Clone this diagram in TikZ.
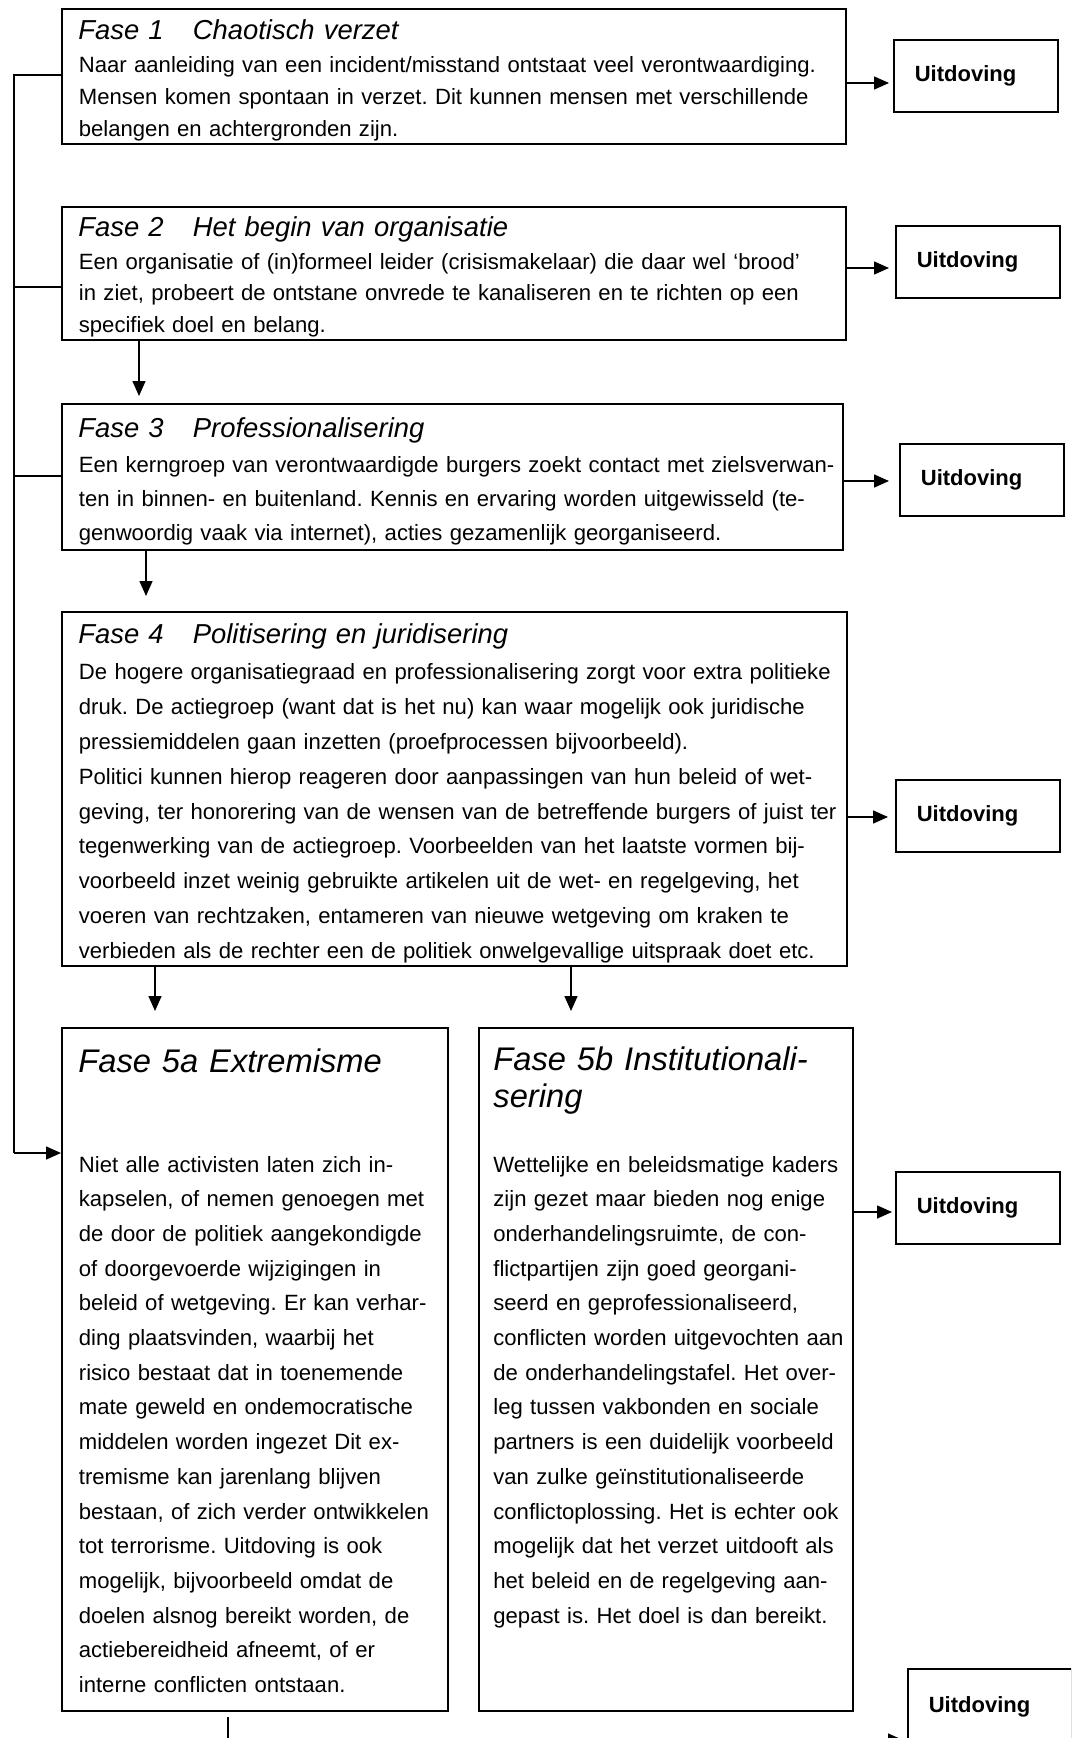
\documentclass[tikz,border=0pt]{standalone}
\usepackage{fontspec}
\setmainfont{Liberation Sans}
\usetikzlibrary{arrows.meta,fit}
\setlength{\parindent}{0pt}
\frenchspacing
\tikzset{
  phase/.style={draw, line width=1pt, inner sep=0pt, rectangle},
  ubox/.style={draw, line width=0.85pt, rectangle, anchor=north west,
    minimum width=82pt, minimum height=36pt, text width=61pt,
    inner xsep=10.5pt, inner ysep=0pt, align=left,
    font=\fontsize{11pt}{13pt}\selectfont\bfseries},
  conn/.style={line width=0.75pt},
  arr/.style={conn, -{Triangle[length=7.5pt,width=6.5pt]}},
  ttl/.style={anchor=north west, inner sep=0pt, align=left, text width=420pt,
    font=\fontsize{13.7pt}{16pt}\selectfont\itshape},
  bigttl/.style={anchor=north west, inner sep=0pt, align=left, text width=420pt,
    font=\fontsize{16.35pt}{18.5pt}\selectfont\itshape},
  body/.style={anchor=north west, inner sep=0pt, align=left, text width=420pt},
}
\newcommand{\bs}{\rule{0pt}{12pt}}
\newcommand{\ts}{\rule{0pt}{14pt}}
\newcommand{\fase}[1]{\makebox[57.25pt][l]{#1}}
\begin{document}
\begin{tikzpicture}[x=0.5pt, y=-0.5pt]
\useasboundingbox (0,0) rectangle (1071,1738);
\clip (0,0) rectangle (1071,1738);
\fill[white] (0,0) rectangle (1071,1738);

% phase boxes
\node[phase, fit={(62,9) (846,144)}] (b1) {};
\node[phase, fit={(62,207) (846,340)}] (b2) {};
\node[phase, fit={(62,404) (843,550)}] (b3) {};
\node[phase, fit={(62,612) (847,966)}] (b4) {};
\node[phase, fit={(62,1028) (448,1711)}] (b5a) {};
\node[phase, fit={(479,1028) (853,1711)}] (b5b) {};

% texts
\node[ttl] (t1) at (78,11.3) {\ts\fase{Fase 1}Chaotisch verzet};
\node[body, font=\fontsize{11.05pt}{16.1pt}\selectfont] (x1) at (78.5,47.7) {\bs Naar aanleiding van een incident/misstand ontstaat veel verontwaardiging.\\
Mensen komen spontaan in verzet. Dit kunnen mensen met verschillende\\
belangen en achtergronden zijn.};

\node[ttl] (t2) at (78,208) {\ts\fase{Fase 2}Het begin van organisatie};
\node[body, font=\fontsize{11.05pt}{15.8pt}\selectfont] (x2) at (78.5,245) {\bs Een organisatie of (in)formeel leider (crisismakelaar) die daar wel ‘brood’\\
in ziet, probeert de ontstane onvrede te kanaliseren en te richten op een\\
specifiek doel en belang.};

\node[ttl] (t3) at (78,409) {\ts\fase{Fase 3}Professionalisering};
\node[body, font=\fontsize{11.05pt}{16.85pt}\selectfont] (x3) at (78.5,448.5) {\bs Een kerngroep van verontwaardigde burgers zoekt contact met zielsverwan-\\
ten in binnen- en buitenland. Kennis en ervaring worden uitgewisseld (te-\\
genwoordig vaak via internet), acties gezamenlijk georganiseerd.};

\node[ttl] (t4) at (78,615.5) {\ts\fase{Fase 4}Politisering en juridisering};
\node[body, font=\fontsize{11.05pt}{17.4pt}\selectfont] (x4) at (78.5,655.5) {\bs De hogere organisatiegraad en professionalisering zorgt voor extra politieke\\
druk. De actiegroep (want dat is het nu) kan waar mogelijk ook juridische\\
pressiemiddelen gaan inzetten (proefprocessen bijvoorbeeld).\\
Politici kunnen hierop reageren door aanpassingen van hun beleid of wet-\\
geving, ter honorering van de wensen van de betreffende burgers of juist ter\\
tegenwerking van de actiegroep. Voorbeelden van het laatste vormen bij-\\
voorbeeld inzet weinig gebruikte artikelen uit de wet- en regelgeving, het\\
voeren van rechtzaken, entameren van nieuwe wetgeving om kraken te\\
verbieden als de rechter een de politiek onwelgevallige uitspraak doet etc.};

\node[bigttl] (t5a) at (78,1040) {\rule{0pt}{16pt}Fase 5a Extremisme};
\node[body, font=\fontsize{11.05pt}{17.35pt}\selectfont] (x5a) at (78.5,1147.6) {\bs Niet alle activisten laten zich in-\\
kapselen, of nemen genoegen met\\
de door de politiek aangekondigde\\
of doorgevoerde wijzigingen in\\
beleid of wetgeving. Er kan verhar-\\
ding plaatsvinden, waarbij het\\
risico bestaat dat in toenemende\\
mate geweld en ondemocratische\\
middelen worden ingezet Dit ex-\\
tremisme kan jarenlang blijven\\
bestaan, of zich verder ontwikkelen\\
tot terrorisme. Uitdoving is ook\\
mogelijk, bijvoorbeeld omdat de\\
doelen alsnog bereikt worden, de\\
actiebereidheid afneemt, of er\\
interne conflicten ontstaan.};

\node[bigttl] (t5b) at (493,1038.5) {\rule{0pt}{16pt}Fase 5b Institutionali-\\sering};
\node[body, font=\fontsize{11.05pt}{17.35pt}\selectfont] (x5b) at (493,1147.6) {\bs Wettelijke en beleidsmatige kaders\\
zijn gezet maar bieden nog enige\\
onderhandelingsruimte, de con-\\
flictpartijen zijn goed georgani-\\
seerd en geprofessionaliseerd,\\
conflicten worden uitgevochten aan\\
de onderhandelingstafel. Het over-\\
leg tussen vakbonden en sociale\\
partners is een duidelijk voorbeeld\\
van zulke geïnstitutionaliseerde\\
conflictoplossing. Het is echter ook\\
mogelijk dat het verzet uitdooft als\\
het beleid en de regelgeving aan-\\
gepast is. Het doel is dan bereikt.};

% Uitdoving boxes
\node[ubox] (u1) at (893,39) {Uitdoving};
\node[ubox] (u2) at (895,225) {Uitdoving};
\node[ubox] (u3) at (899,443) {Uitdoving};
\node[ubox] (u4) at (895,779) {Uitdoving};
\node[ubox] (u5) at (895,1171) {Uitdoving};
\node[ubox, minimum height=38pt] (u6) at (907,1668) {Uitdoving};

% left feedback line
\coordinate (lt) at (14,75);
\coordinate (lb) at (14,1153);
\draw[conn] (b1.west |- lt) -- (lt) -- (lb);
\draw[conn] (b2.west |- 0,287) -- (lt |- 0,287);
\draw[conn] (b3.west |- 0,476) -- (lt |- 0,476);
\draw[arr] (lb) -- (b5a.west |- lb);

% downward arrows
\draw[arr, shorten >=3.5pt] (b2.south -| 139,0) -- (b3.north -| 139,0);
\draw[arr, shorten >=7.5pt] (b3.south -| 146,0) -- (b4.north -| 146,0);
\draw[arr, shorten >=8pt] (b4.south -| 155,0) -- (b5a.north -| 155,0);
\draw[arr, shorten >=8pt] (b4.south -| 571,0) -- (b5b.north -| 571,0);

% arrows to Uitdoving
\draw[arr, shorten >=2pt] (b1.east |- 0,83) -- (u1.west |- 0,83);
\draw[arr, shorten >=3pt] (b2.east |- 0,268) -- (u2.west |- 0,268);
\draw[arr, shorten >=5pt] (b3.east |- 0,481) -- (u3.west |- 0,481);
\draw[arr, shorten >=3.5pt] (b4.east |- 0,817) -- (u4.west |- 0,817);
\draw[arr, shorten >=1.5pt] (b5b.east |- 0,1212) -- (u5.west |- 0,1212);
\draw[arr, shorten <=2.5pt, shorten >=2pt] (b5a.south -| 228,0) |- (u6.west |- 0,1740);
\end{tikzpicture}
\end{document}
